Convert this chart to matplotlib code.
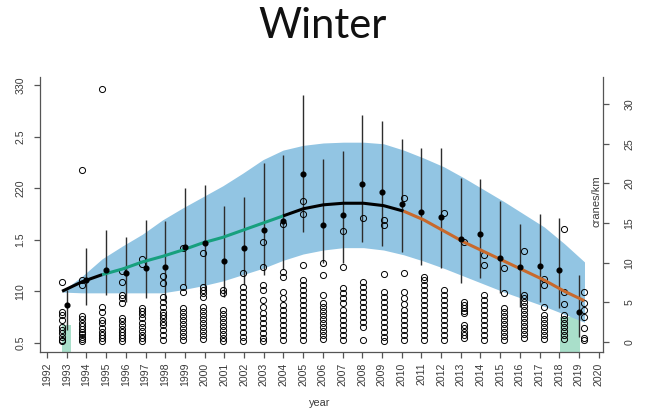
import matplotlib
matplotlib.use("Agg")
import matplotlib.pyplot as plt
import numpy as np

plt.rcParams["font.family"] = ["Liberation Sans", "DejaVu Sans"]

# ---- data (all y values in cranes/km) ----
years = list(range(1993, 2020))

fit = [6.4, 7.6, 8.5, 9.2, 10.1, 10.8, 11.6, 12.5, 13.2, 14.1, 15.0, 15.9,
       16.8, 17.3, 17.5, 17.5, 17.2, 16.5, 15.4, 14.0, 12.6, 11.4, 10.2,
       9.0, 7.8, 6.4, 5.2]
band_hi = [6.4, 8.3, 10.5, 12.1, 13.6, 15.4, 16.9, 18.3, 19.7, 21.3, 23.0,
           24.2, 24.8, 25.1, 25.2, 25.2, 25.0, 24.2, 23.2, 22.1, 20.7, 19.2,
           17.7, 16.1, 14.5, 12.4, 10.1]
band_lo = [6.3, 6.2, 6.2, 6.2, 6.2, 6.2, 6.6, 7.1, 7.7, 8.5, 9.3, 10.3,
           11.1, 11.6, 11.9, 11.9, 11.6, 11.0, 10.2, 9.3, 8.3, 7.3, 6.3,
           5.4, 4.5, 3.5, 2.5]

means = [4.7, 7.8, 9.1, 8.7, 9.3, 9.5, 12.0, 12.5, 10.2, 11.9, 14.1, 15.3,
         21.2, 14.8, 16.0, 19.9, 18.9, 17.4, 16.4, 15.8, 13.0, 13.6, 10.6,
         9.5, 9.6, 9.1, 3.8]
err_hi = [6.6, 11.9, 14.1, 13.2, 15.4, 15.3, 19.4, 19.8, 17.2, 18.3, 22.6,
          23.6, 31.2, 23.1, 24.1, 28.6, 27.9, 25.6, 24.5, 24.5, 20.7, 20.6,
          17.8, 14.9, 16.1, 15.6, 8.5]
err_lo = [1.5, 4.7, 5.9, 5.0, 5.6, 5.0, 7.2, 6.6, 5.7, 7.2, 8.5, 9.2,
          13.9, 10.0, 10.0, 12.6, 12.1, 11.4, 9.7, 9.3, 7.4, 8.1, 6.2,
          4.4, 5.0, 4.3, 0.6]

# raw observations per year
obs = [
    [7.6, 3.8, 3.4, 2.8, 1.9, 1.5, 1.1, 0.6, 0.3, 0.1],
    [21.7, 7.8, 7.2, 3.3, 2.9, 2.4, 2.0, 1.6, 1.3, 1.0, 0.6, 0.4, 0.1],
    [31.9, 4.4, 3.8, 2.8, 2.4, 1.8, 1.3, 0.9, 0.5, 0.1],
    [9.0, 7.6, 5.9, 5.5, 4.9, 3.0, 2.6, 2.1, 1.7, 1.3, 0.9, 0.5, 0.1],
    [10.5, 9.8, 4.3, 3.9, 3.5, 3.0, 2.4, 1.9, 1.4, 0.9, 0.5, 0.1],
    [8.3, 7.4, 5.7, 5.0, 4.4, 3.8, 3.4, 3.0, 2.5, 2.1, 1.5, 0.9, 0.3],
    [11.8, 6.9, 6.3, 4.3, 3.8, 3.3, 2.8, 2.3, 1.8, 1.3, 0.8, 0.3],
    [11.2, 6.9, 6.6, 6.2, 5.7, 4.4, 3.9, 3.4, 2.9, 2.4, 1.9, 1.4, 0.9, 0.4],
    [6.6, 6.2, 4.0, 3.5, 3.0, 2.5, 2.0, 1.5, 1.0, 0.5, 0.1],
    [8.7, 6.9, 6.3, 5.7, 5.0, 4.4, 3.8, 3.2, 2.5, 1.9, 1.3, 0.6, 0.1],
    [12.6, 9.5, 7.2, 6.6, 5.3, 4.4, 3.7, 3.0, 2.4, 1.8, 1.1, 0.5, 0.1],
    [14.9, 8.8, 8.2, 6.3, 5.5, 4.7, 4.0, 3.4, 2.8, 2.1, 1.5, 0.9, 0.3],
    [17.8, 16.1, 9.7, 7.8, 7.2, 6.6, 5.9, 5.3, 4.7, 4.0, 3.4, 2.8, 2.1,
     1.5, 0.9, 0.3],
    [10.0, 8.4, 5.9, 4.9, 4.4, 3.9, 3.4, 2.9, 2.4, 1.9, 1.4, 0.9, 0.4],
    [14.0, 9.5, 6.8, 6.2, 5.5, 4.9, 4.0, 3.4, 2.8, 2.1, 1.5, 0.9, 0.3],
    [15.6, 7.6, 6.9, 6.3, 5.7, 5.0, 4.4, 3.8, 3.2, 2.5, 1.9, 0.3],
    [15.4, 14.8, 8.6, 6.3, 5.7, 5.0, 4.4, 3.8, 3.2, 2.5, 1.9, 1.3, 0.6, 0.1],
    [18.2, 8.7, 6.3, 5.5, 4.8, 4.0, 3.4, 2.8, 2.1, 1.5, 0.9, 0.3],
    [8.2, 7.8, 7.2, 6.6, 5.9, 5.3, 4.7, 4.0, 3.4, 2.8, 2.1, 1.5, 0.9, 0.3],
    [16.3, 6.6, 5.9, 5.3, 4.7, 4.0, 3.4, 2.8, 2.1, 1.5, 0.9, 0.3],
    [12.6, 5.0, 4.7, 4.3, 3.9, 3.7, 2.1, 1.8, 1.3, 0.9, 0.5],
    [11.0, 9.7, 5.9, 5.3, 4.7, 4.0, 3.4, 2.8, 2.1, 1.5, 0.9, 0.3],
    [9.3, 6.2, 4.3, 3.8, 3.3, 2.8, 2.3, 1.8, 1.3, 0.8, 0.3],
    [11.5, 5.9, 5.5, 5.0, 4.5, 4.0, 3.5, 3.0, 2.5, 2.0, 1.5, 1.0, 0.5],
    [7.9, 7.2, 4.4, 3.4, 2.9, 2.4, 1.9, 1.4, 0.9, 0.4],
    [14.2, 6.3, 4.8, 3.4, 2.9, 2.4, 1.9, 1.4, 0.9, 0.4],
    [6.3, 4.9, 4.0, 3.2, 1.8, 0.5, 0.3],
]

# shaded low-coverage years (start, end, top)
shade_x0 = [1992.76, 2018.04]
shade_x1 = [1993.22, 2019.06]
shade_top = [2.1, 3.2]

# segments of the fitted curve: (first year, last year, colour)
seg_start = [1993, 1995, 2004, 2010]
seg_end = [1995, 2004, 2010, 2019]
seg_col = ["black", "#17a07e", "black", "#c8692c"]

left_vals = [0.5, 1.0, 1.5, 2.0, 2.5, 3.0]
left_labels = ["0.5", "110", "1.5", "220", "2.5", "330"]
right_ticks = [0, 5, 10, 15, 20, 25, 30]
xticks = list(range(1992, 2021))

YMIN, YMAX = -1.26, 33.42


def obs_x(yr):
    # the fit/raw layer sits on a slightly different x scale
    return 1992.76 + 1.02 * (np.asarray(yr, dtype=float) - 1993)


def left_pos(v):
    return (np.asarray(v) - 0.5) * 13.0 - 0.13


fig = plt.figure(figsize=(6.46, 4.12), dpi=100)
ax = fig.add_axes([40 / 646, 60 / 412, 563 / 646, 275 / 412])
ax.set_xlim(1991.64, 2020.22)
ax.set_ylim(YMIN, YMAX)

for x0, x1, top in zip(shade_x0, shade_x1, shade_top):
    ax.bar(x0, top - YMIN, width=x1 - x0, bottom=YMIN, align="edge",
           color="#a9dfca", linewidth=0, zorder=1)

ox = obs_x(years)
ax.fill_between(ox, band_lo, band_hi, color="#92c5e3", linewidth=0,
                zorder=2)

ax.vlines(years, err_lo, err_hi, color="#2d2d2d", linewidth=1.0, zorder=3)

for yr, vals in zip(years, obs):
    ax.plot(obs_x([yr] * len(vals)), vals, "o", mfc="none", mec="black",
            ms=4.4, mew=0.7, zorder=4)

for s, e, c in zip(seg_start, seg_end, seg_col):
    i0, i1 = years.index(s), years.index(e) + 1
    ax.plot(ox[i0:i1], fit[i0:i1], color=c, linewidth=2.2,
            solid_capstyle="butt", zorder=5)

ax.plot(years, means, "o", color="black", ms=3.4, zorder=6)

axis_col = "#555555"
for side in ["top", "right"]:
    ax.spines[side].set_visible(False)
for side in ["left", "bottom"]:
    ax.spines[side].set_color(axis_col)
    ax.spines[side].set_linewidth(0.9)

ax.set_xticks(xticks)
ax.set_xticklabels([str(x) for x in xticks], rotation=90, fontsize=7.6,
                   color="#3a3a3a")
ax.set_yticks(left_pos(left_vals))
ax.set_yticklabels(left_labels, rotation=90, va="center", fontsize=7.6,
                   color="#3a3a3a")
ax.tick_params(axis="x", length=4.5, width=0.9, color=axis_col, pad=3)
ax.tick_params(axis="y", length=4.5, width=0.9, color=axis_col, pad=6)

ax2 = ax.twinx()
ax2.set_ylim(YMIN, YMAX)
for side in ["top", "left", "bottom"]:
    ax2.spines[side].set_visible(False)
ax2.spines["right"].set_color(axis_col)
ax2.spines["right"].set_linewidth(0.9)
ax2.set_yticks(right_ticks)
ax2.set_yticklabels([str(t) for t in right_ticks], rotation=90,
                    va="center", fontsize=7.6, color="#3a3a3a")
ax2.tick_params(axis="y", length=4.5, width=0.9, color=axis_col, pad=11)

ax.text(0.988, 0.549, "cranes/km", transform=ax.transAxes, rotation=90,
        ha="center", va="center", fontsize=8, color="#3a3a3a")
fig.text(320 / 646, 1 - 403 / 412, "year", ha="center", va="center",
         fontsize=7.8, color="#3a3a3a")
fig.text(323 / 646, 1 - 26 / 412, "Winter", ha="center", va="center",
         fontsize=30, family=["Lato", "DejaVu Sans"], color="#111111")

fig.savefig("out.png", dpi=100)
